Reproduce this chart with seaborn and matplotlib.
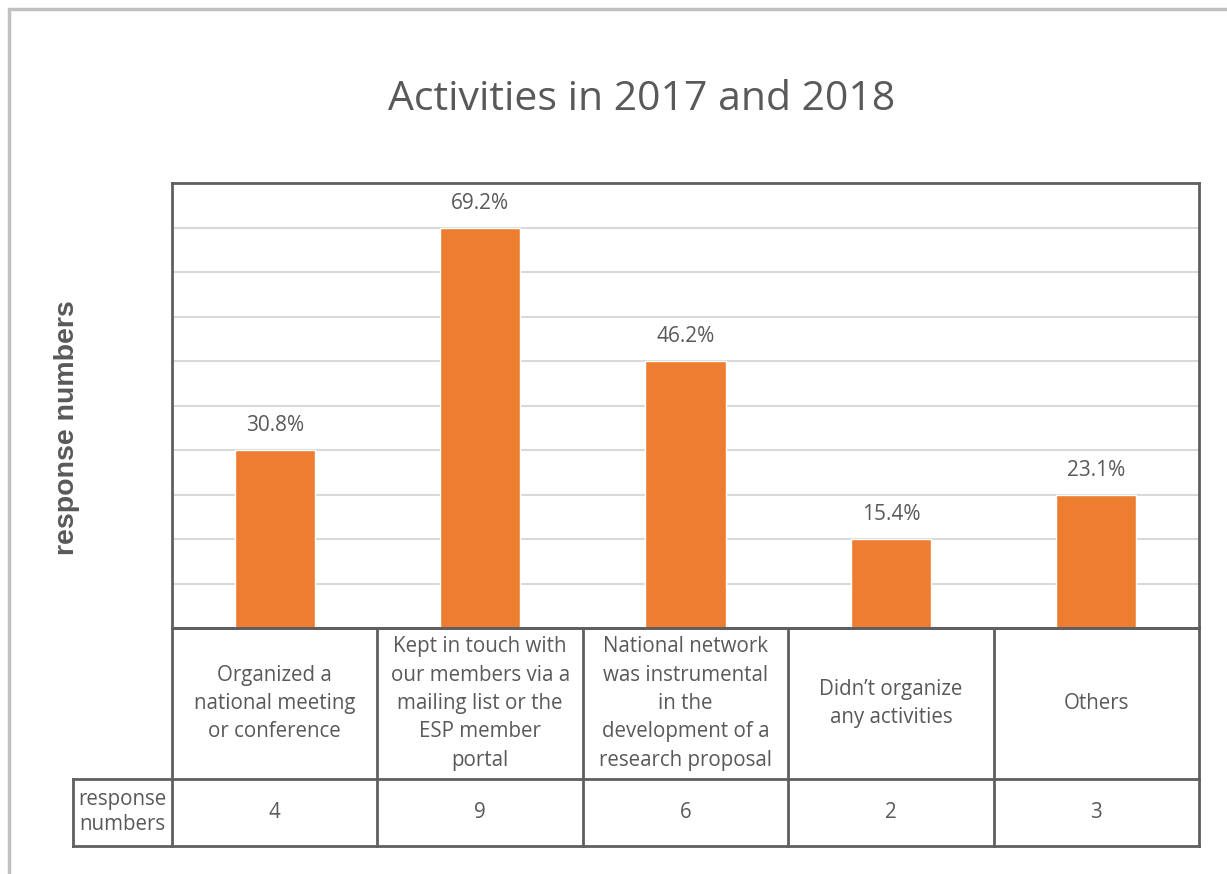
import matplotlib
matplotlib.use("Agg")
import matplotlib.pyplot as plt
from matplotlib.lines import Line2D
import seaborn as sns
import pandas as pd

# Survey data
categories = [
    "Organized a\nnational meeting\nor conference",
    "Kept in touch with\nour members via a\nmailing list or the\nESP member\nportal",
    "National network\nwas instrumental\nin the\ndevelopment of a\nresearch proposal",
    "Didn\u2019t organize\nany activities",
    "Others",
]
responses = [4, 9, 6, 2, 3]
n_respondents = 13
row_header = "response\nnumbers"

sns.set_theme(style="white")
plt.rcParams["font.family"] = ["Open Sans", "DejaVu Sans"]

TEXT = "#595959"
BORDER = "#5f5f5f"
GRID = "#d9d9d9"
BAR = "#ED7D31"

W, H = 1227, 874
fig = plt.figure(figsize=(W / 100, H / 100), dpi=100)

def fx(px):
    return px / W

def fy(py):
    return 1 - py / H

# outer chart frame (left and top edges)
fig.add_artist(Line2D([fx(9), fx(9)], [fy(9), 0], color="#c0c0c0", lw=2.5))
fig.add_artist(Line2D([fx(9), 1], [fy(9), fy(9)], color="#c0c0c0", lw=2.5))

# plot area
L, R, T, B = 172, 1199, 183, 628
ax = fig.add_axes([fx(L), fy(B), fx(R - L), (B - T) / H])

df = pd.DataFrame({"cat": [str(i) for i in range(len(categories))], "n": responses})
sns.barplot(data=df, x="cat", y="n", color=BAR, saturation=1, width=0.39, ax=ax)
ax.set_xlim(-0.5, len(categories) - 0.5)
ax.set_ylim(0, 10)
ax.set_yticks(range(1, 10))
ax.yaxis.grid(True, color=GRID, lw=1.5)
ax.set_axisbelow(True)
ax.set_xticks([])
ax.set_yticklabels([])
ax.tick_params(left=False, bottom=False)
ax.set_xlabel("")
ax.set_ylabel("")
for s in ax.spines.values():
    s.set_color(BORDER)
    s.set_linewidth(2)

labels = [f"{100 * v / n_respondents:.1f}%" for v in responses]
ax.bar_label(ax.containers[0], labels=labels, padding=10, color=TEXT, fontsize=15)

# data table below the plot
TB = 846
tax = fig.add_axes([fx(L), fy(TB), fx(R - L), (TB - B) / H], sharex=ax)
tax.set_ylim(0, TB - B)
tax.axis("off")
row_split = TB - 779
x0 = -0.5 + (73 - L) / ((R - L) / len(categories))
kw = dict(color=BORDER, lw=2, clip_on=False, solid_capstyle="projecting")
# horizontal lines
tax.plot([-0.5, len(categories) - 0.5], [TB - B, TB - B], **kw)
tax.plot([x0, len(categories) - 0.5], [row_split, row_split], **kw)
tax.plot([x0, len(categories) - 0.5], [0, 0], **kw)
# vertical lines
for i in range(len(categories) + 1):
    tax.plot([i - 0.5, i - 0.5], [0, TB - B], **kw)
tax.plot([x0, x0], [0, row_split], **kw)

cat_mid = (TB - B + row_split) / 2
for i, (c, v) in enumerate(zip(categories, responses)):
    tax.text(i, cat_mid, c, ha="center", va="center", color=TEXT, fontsize=14.8,
             linespacing=1.46)
    tax.text(i, row_split / 2, str(v), ha="center", va="center", color=TEXT, fontsize=14.8)
tax.text((x0 - 0.5) / 2, row_split / 2, row_header, ha="center", va="center",
         color=TEXT, fontsize=14.8, linespacing=1.25, clip_on=False)

fig.text(fx(642), fy(100), "Activities in 2017 and 2018", ha="center", va="center",
         color=TEXT, fontsize=29.5)
fig.text(fx(67), fy(428), "response numbers", ha="center", va="center", rotation=90,
         color=TEXT, fontsize=20.5, fontweight="bold", family=["Liberation Sans", "DejaVu Sans"])

fig.savefig("out.png", dpi=100, facecolor="white")
